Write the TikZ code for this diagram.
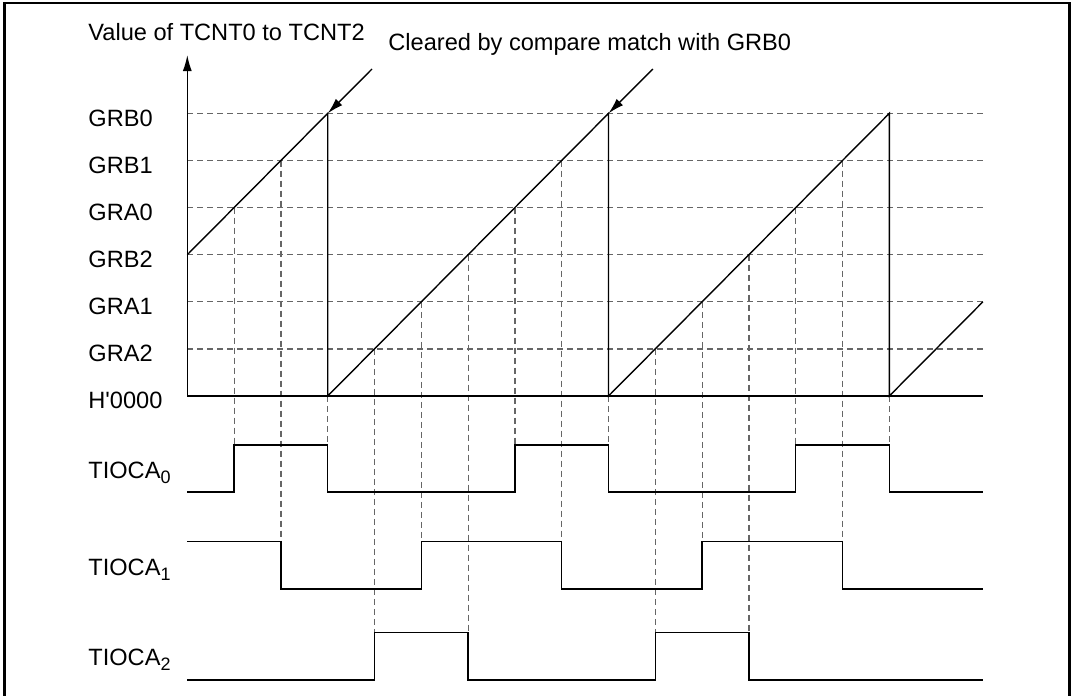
\documentclass[tikz,border=0pt]{standalone}
\usepackage{fontspec}
\setmainfont{Liberation Sans}
\usepackage{tikz}
\usetikzlibrary{arrows.meta}

\newcommand{\outsub}[1]{\raisebox{-2.5pt}{\fontsize{9}{10}\selectfont #1}}

\begin{document}
\begin{tikzpicture}[
  x=0.5pt, y=-0.5pt,
  font=\fontsize{11.8}{14}\selectfont,
  lbl/.style={anchor=base west, inner sep=0pt},
  sig/.style={line width=0.7pt},
  grid/.style={black!60, line width=0.6pt, dash pattern=on 3pt off 2pt},
  arr/.style={-{Latex[length=8pt, width=4.5pt]}, line width=0.7pt}
]
  \useasboundingbox (0,0) rectangle (1072,696);
  \draw[line width=1.3pt] (4.5,3) rectangle (1069.5,720);

  % level lines
  \draw[grid] (187.3,113.4) -- (982.9,113.4);
  \draw[grid] (187.3,160.5) -- (982.9,160.5);
  \draw[grid] (187.3,207.6) -- (982.9,207.6);
  \draw[grid] (187.3,254.7) -- (982.9,254.7);
  \draw[grid] (187.3,301.8) -- (982.9,301.8);
  \draw[grid] (187.3,348.9) -- (982.9,348.9);

  % compare matches down to the outputs
  \draw[grid] (234.1,207.6) -- (234.1,445);
  \draw[grid] (327.7,396) -- (327.7,445);
  \draw[grid] (514.9,207.6) -- (514.9,445);
  \draw[grid] (608.5,396) -- (608.5,445);
  \draw[grid] (795.7,207.6) -- (795.7,445);
  \draw[grid] (889.3,396) -- (889.3,445);
  \draw[grid] (280.9,160.5) -- (280.9,541.7);
  \draw[grid] (421.3,301.8) -- (421.3,541.7);
  \draw[grid] (561.7,160.5) -- (561.7,541.7);
  \draw[grid] (702.1,301.8) -- (702.1,541.7);
  \draw[grid] (842.5,160.5) -- (842.5,541.7);
  \draw[grid] (374.5,348.9) -- (374.5,632.5);
  \draw[grid] (468.1,254.7) -- (468.1,632.5);
  \draw[grid] (655.3,348.9) -- (655.3,632.5);
  \draw[grid] (748.9,254.7) -- (748.9,632.5);

  % axes
  \coordinate (org) at (187.3,396);
  \coordinate (ytop) at (187.3,55);
  \coordinate (xend) at (982.9,396);
  \draw[arr] (org) -- (ytop);
  \draw[sig] (org) -- (xend);

  % counter value
  \draw[sig] (187.3,254.7) -- (327.7,113.4) -- (327.7,396) -- (608.5,113.4)
    -- (608.5,396) -- (889.3,113.4) -- (889.3,396) -- (982.9,301.8);

  % outputs
  \draw[sig] (187.3,492) -- (234.1,492) -- (234.1,445) -- (327.7,445) -- (327.7,492)
    -- (514.9,492) -- (514.9,445) -- (608.5,445) -- (608.5,492) -- (795.7,492)
    -- (795.7,445) -- (889.3,445) -- (889.3,492) -- (982.9,492);
  \draw[sig] (187.3,541.7) -- (280.9,541.7) -- (280.9,589) -- (421.3,589) -- (421.3,541.7)
    -- (561.7,541.7) -- (561.7,589) -- (702.1,589) -- (702.1,541.7) -- (842.5,541.7)
    -- (842.5,589) -- (982.9,589);
  \draw[sig] (187.3,680) -- (374.5,680) -- (374.5,632.5) -- (468.1,632.5) -- (468.1,680)
    -- (655.3,680) -- (655.3,632.5) -- (748.9,632.5) -- (748.9,680) -- (982.9,680);

  % clear points
  \coordinate (clr1) at (372,69);
  \coordinate (top1) at (327.7,113.4);
  \coordinate (clr2) at (652.8,69);
  \coordinate (top2) at (608.5,113.4);
  \draw[arr] (clr1) -- (top1);
  \draw[arr] (clr2) -- (top2);

  % texts
  \node[lbl] (yname) at (88,40) {Value of TCNT0 to TCNT2};
  \node[lbl] (clrtxt) at (388,50) {Cleared by compare match with GRB0};
  \node[lbl] (lGRB0) at (88,126.4) {GRB0};
  \node[lbl] (lGRB1) at (88,173.5) {GRB1};
  \node[lbl] (lGRA0) at (88,220.6) {GRA0};
  \node[lbl] (lGRB2) at (88,267.7) {GRB2};
  \node[lbl] (lGRA1) at (88,314.8) {GRA1};
  \node[lbl] (lGRA2) at (88,361.9) {GRA2};
  \node[lbl] (lzero) at (88,408.5) {H\textquotesingle 0000};
  \node[lbl] (lout0) at (88,478) {TIOCA\outsub{0}};
  \node[lbl] (lout1) at (88,575) {TIOCA\outsub{1}};
  \node[lbl] (lout2) at (88,665) {TIOCA\outsub{2}};
\end{tikzpicture}
\end{document}
